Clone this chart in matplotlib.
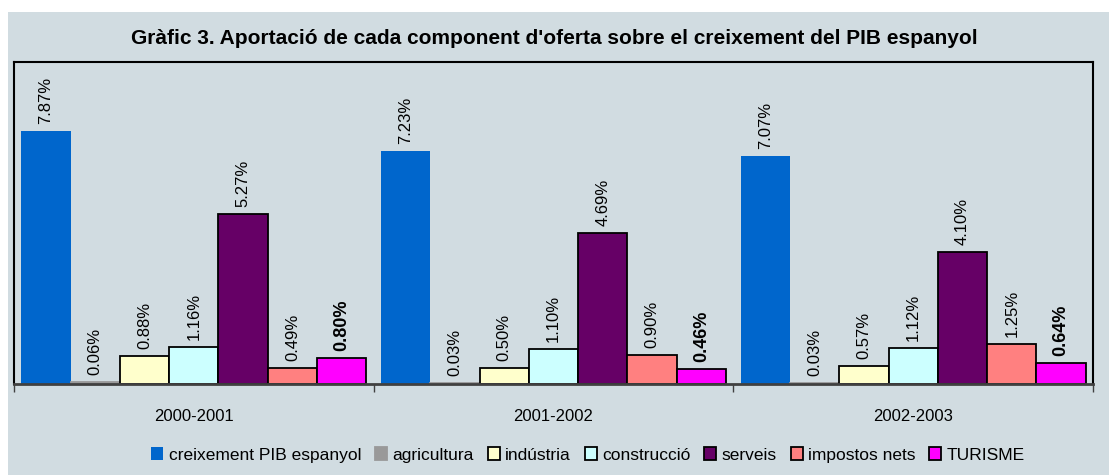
import numpy as np
import matplotlib
matplotlib.use('Agg')
import matplotlib.pyplot as plt
from matplotlib.patches import Rectangle

plt.rcParams['font.family'] = ['Liberation Sans Narrow', 'Liberation Sans', 'DejaVu Sans']

# ── dades ─────────────────────────────────────────────
periodes = ["2000-2001", "2001-2002", "2002-2003"]
components = ["creixement PIB espanyol", "agricultura", "indústria", "construcció",
              "serveis", "impostos nets", "TURISME"]
pib = [7.87, 7.23, 7.07]
agricultura = [0.06, 0.03, 0.03]
industria = [0.88, 0.50, 0.57]
construccio = [1.16, 1.10, 1.12]
serveis = [5.27, 4.69, 4.10]
impostos = [0.49, 0.90, 1.25]
turisme = [0.80, 0.46, 0.64]

series = [pib, agricultura, industria, construccio, serveis, impostos, turisme]
colors = ["#0066CC", "#999999", "#FFFFCC", "#CCFFFF", "#660066", "#FF8080", "#FF00FF"]
edges = [None, "#999999", "black", "black", "black", "black", "black"]

BG = "#D1DCE1"
W, H = 1109, 475

fig = plt.figure(figsize=(W / 100, H / 100), dpi=100, facecolor="white")
# fons gris amb marge blanc a dalt i a l'esquerra
fig.patches.append(Rectangle((8 / W, 0), 1 - 8 / W, 1 - 12 / H, transform=fig.transFigure,
                             facecolor=BG, edgecolor="none", zorder=-10))

ax = fig.add_axes([14 / W, (H - 384) / H, (1093 - 14) / W, (384 - 62) / H])
ax.set_zorder(5)
ax.set_facecolor(BG)

x = np.arange(len(periodes))
w = 0.96 / len(series)
for i, (vals, col, ec) in enumerate(zip(series, colors, edges)):
    pos = x + (i - 3) * w
    bars = ax.bar(pos, vals, w, color=col, edgecolor=ec if ec else col,
                  linewidth=1.3 if ec else 0, label=components[i], zorder=2)
    bold = components[i] == "TURISME"
    for b, v in zip(bars, vals):
        ax.annotate(f"{v:.2f}%", (b.get_x() + b.get_width() / 2, v),
                    xytext=(0, 5), textcoords="offset points", rotation=90,
                    ha="center", va="bottom",
                    fontsize=13 if bold else 12, fontweight="bold" if bold else "normal")

ax.set_xlim(-0.5, 2.5)
ax.set_ylim(0, 10)
ax.set_yticks([])
ax.set_xticks([-0.5, 0.5, 1.5, 2.5])
ax.set_xticklabels([])
ax.set_xticks(x, minor=True)
ax.set_xticklabels(periodes, minor=True, fontsize=12)
ax.tick_params(axis="x", which="major", length=6, width=1, color="#404040", direction="out")
ax.tick_params(axis="x", which="minor", length=0, pad=18)

for s in ["top", "left", "right"]:
    ax.spines[s].set_color("black")
    ax.spines[s].set_linewidth(1.5)
ax.spines["bottom"].set_color("#404040")
ax.spines["bottom"].set_linewidth(2)

fig.text(0.5, 1 - 38 / H, "Gràfic 3. Aportació de cada component d'oferta sobre el creixement del PIB espanyol",
         ha="center", va="center", fontsize=15, fontweight="bold")

fig.legend(loc="center", bbox_to_anchor=(588 / W, 1 - 455 / H), ncol=7, frameon=False,
           fontsize=12.5, handlelength=0.7, handleheight=0.7, handletextpad=0.3,
           columnspacing=0.8)

fig.savefig("out.png", dpi=100, facecolor="white")
